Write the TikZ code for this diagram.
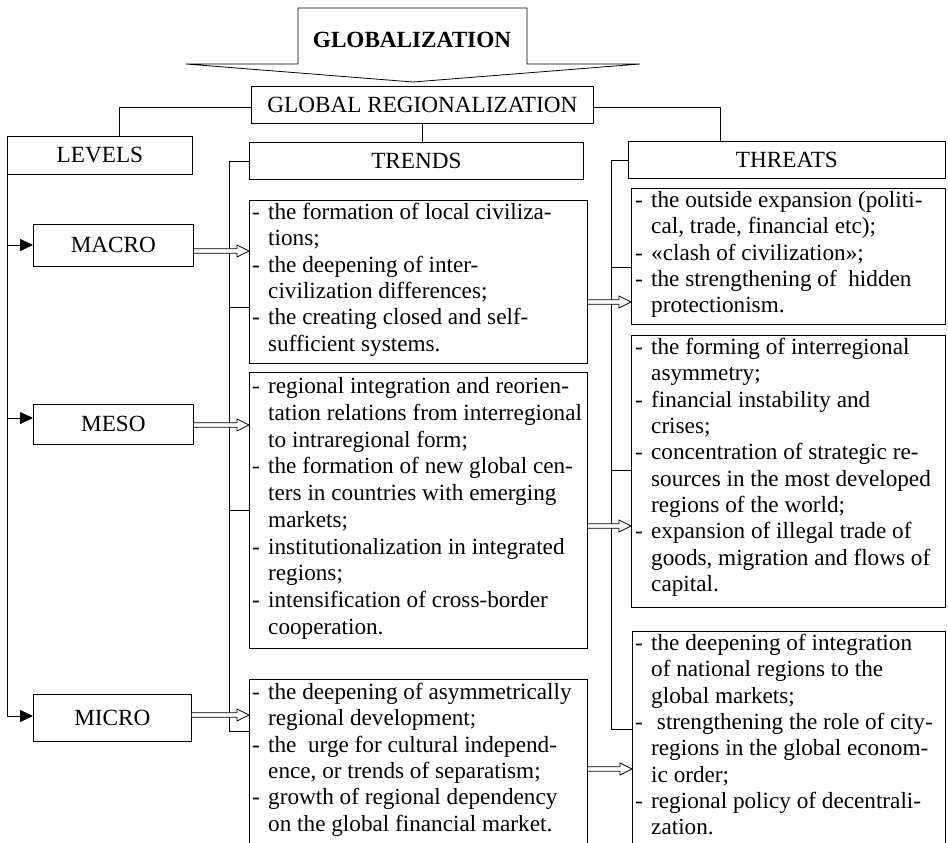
\documentclass[tikz,border=0pt]{standalone}
\usepackage{fontspec}
\setmainfont{Liberation Serif}
\usetikzlibrary{arrows.meta,calc}
\newcommand\dl[1]{\strut\makebox[16pt][l]{-}#1}
\newcommand\cl[1]{\strut\hspace*{16pt}#1}
\newcommand\dblarr[3]{%
 \path (#1.east |- #3) coordinate (da) (#2.west |- #3) coordinate (db);
 \draw[dblarrow] let \p1=(da), \p2=(db) in
   (\x1,\y1+2.3pt) -- (\x2-12pt,\y1+2.3pt) -- (\x2-12pt,\y1+6pt) -- (\x2,\y1)
   -- (\x2-12pt,\y1-6pt) -- (\x2-12pt,\y1-2.3pt) -- (\x1,\y1-2.3pt);}
\begin{document}
\begin{tikzpicture}[x=1pt,y=-1pt,
  every node/.style={font=\fontsize{23.2}{26.3}\selectfont},
  box/.style={draw, line width=0.8pt, rectangle, inner sep=0pt, anchor=north west},
  txt/.style={anchor=north west, inner sep=0pt, align=left},
  conn/.style={line width=0.8pt},
  sarrow/.style={line width=0.8pt, -{Triangle[length=13pt,width=12pt]}},
  dblarrow/.style={line width=0.7pt, fill=white},
]
\useasboundingbox (0,0) rectangle (948,843);

% GLOBALIZATION block arrow
\coordinate (g1) at (298,8);
\coordinate (g2) at (527,8);
\coordinate (g3) at (527,64);
\coordinate (g4) at (640,64);
\coordinate (gtip) at (413,82);
\coordinate (g5) at (186,64);
\coordinate (g6) at (298,64);
\draw[line width=0.8pt] (g1) -- (g2) -- (g3) -- (g4) -- (gtip) -- (g5) -- (g6) -- cycle;
\node[font=\fontsize{23.2}{26.3}\selectfont\bfseries] (glob) at (412,40) {GLOBALIZATION};

% header boxes
\node[box, minimum width=342pt, minimum height=37pt] (gr) at (251,86) {GLOBAL REGIONALIZATION};
\node[box, minimum width=185pt, minimum height=38pt] (levels) at (7,136) {LEVELS};
\node[box, minimum width=334pt, minimum height=37pt] (trends) at (249,142) {TRENDS};
\node[box, minimum width=317pt, minimum height=37pt] (threats) at (628,141) {THREATS};

% level boxes
\node[box, minimum width=160pt, minimum height=42pt] (macro) at (33,224) {MACRO};
\node[box, minimum width=160pt, minimum height=40pt] (meso) at (33,404) {MESO};
\node[box, minimum width=158pt, minimum height=47pt] (micro) at (33,694) {MICRO};

% content boxes
\node[box, minimum width=338pt, minimum height=163pt] (t1) at (249,200) {};
\node[box, minimum width=338pt, minimum height=276pt] (t2) at (249,372) {};
\node[box, minimum width=338pt, minimum height=180pt] (t3) at (249,679) {};
\node[box, minimum width=314pt, minimum height=136pt] (th1) at (631,188) {};
\node[box, minimum width=314pt, minimum height=272pt] (th2) at (631,335) {};
\node[box, minimum width=313pt, minimum height=230pt] (th3) at (632,631) {};

\node[txt] (t1t) at ([shift={(3pt,-1pt)}]t1.north west) {%
\dl{the formation of local civiliza-}\\
\cl{tions;}\\
\dl{the deepening of inter-}\\
\cl{civilization differences;}\\
\dl{the creating closed and self-}\\
\cl{sufficient systems.}};

\node[txt, font=\fontsize{23.2}{26.7}\selectfont] (t2t) at ([shift={(3pt,-3pt)}]t2.north west) {%
\dl{regional integration and reorien-}\\
\cl{tation relations from interregional}\\
\cl{to intraregional form;}\\
\dl{the formation of new global cen-}\\
\cl{ters in countries with emerging}\\
\cl{markets;}\\
\dl{institutionalization in integrated}\\
\cl{regions;}\\
\dl{intensification of cross-border}\\
\cl{cooperation.}};

\node[txt] (t3t) at ([shift={(3pt,-2pt)}]t3.north west) {%
\dl{the deepening of asymmetrically}\\
\cl{regional development;}\\
\dl{the\ \ urge for cultural independ-}\\
\cl{ence, or trends of separatism;}\\
\dl{growth of regional dependency}\\
\cl{on the global financial market.}};

\node[txt] (th1t) at ([shift={(4pt,-1pt)}]th1.north west) {%
\dl{the outside expansion (politi-}\\
\cl{cal, trade, financial etc);}\\
\dl{«clash of civilization»;}\\
\dl{the strengthening of\ \ hidden}\\
\cl{protectionism.}};

\node[txt] (th2t) at ([shift={(4pt,-1pt)}]th2.north west) {%
\dl{the forming of interregional}\\
\cl{asymmetry;}\\
\dl{financial instability and}\\
\cl{crises;}\\
\dl{concentration of strategic re-}\\
\cl{sources in the most developed}\\
\cl{regions of the world;}\\
\dl{expansion of illegal trade of}\\
\cl{goods, migration and flows of}\\
\cl{capital.}};

\node[txt] (th3t) at ([shift={(3pt,-1pt)}]th3.north west) {%
\dl{the deepening of integration}\\
\cl{of national regions to the}\\
\cl{global markets;}\\
\dl{\ strengthening the role of city-}\\
\cl{regions in the global econom-}\\
\cl{ic order;}\\
\dl{regional policy of decentrali-}\\
\cl{zation.}};

% connectors from GLOBAL REGIONALIZATION
\coordinate (ygr) at (0,107);
\coordinate (lx) at (119,0);
\coordinate (rx) at (720,0);
\draw[conn] (gr.west |- ygr) -- (lx |- ygr) -- (lx |- levels.north);
\draw[conn] (gr.south) -- (gr.south |- trends.north);
\draw[conn] (gr.east |- ygr) -- (rx |- ygr) -- (rx |- threats.north);

% levels
\coordinate (yma) at (0,245);
\coordinate (yme) at (0,418);
\coordinate (ymi) at (0,716);
\draw[sarrow] (levels.south west) -- (levels.south west |- ymi) -- (micro.west |- ymi);
\draw[sarrow] (levels.south west |- yma) -- (macro.west |- yma);
\draw[sarrow] (levels.south west |- yme) -- (meso.west |- yme);

% trends connector
\coordinate (tx) at (229,0);
\coordinate (yb1) at (0,307);
\coordinate (yb2) at (0,510);
\coordinate (yb3) at (0,731);
\draw[conn] (trends.west) -- (trends.west -| tx) -- (tx |- yb3) -- (t3.west |- yb3);
\draw[conn] (tx |- yb1) -- (t1.west |- yb1);
\draw[conn] (tx |- yb2) -- (t2.west |- yb2);

% threats connector
\coordinate (hx) at (611,0);
\coordinate (yc1) at (0,267);
\coordinate (yc2) at (0,470);
\coordinate (yc3) at (0,729);
\draw[conn] (threats.west) -- (threats.west -| hx) -- (hx |- yc3) -- (th3.west |- yc3);
\draw[conn] (hx |- yc1) -- (th1.west |- yc1);
\draw[conn] (hx |- yc2) -- (th2.west |- yc2);

% double arrows
\coordinate (yd1) at (0,251);
\coordinate (yd2) at (0,425);
\coordinate (yd3) at (0,715);
\coordinate (ye1) at (0,302);
\coordinate (ye2) at (0,526);
\coordinate (ye3) at (0,769);
\dblarr{macro}{t1}{yd1}
\dblarr{meso}{t2}{yd2}
\dblarr{micro}{t3}{yd3}
\dblarr{t1}{th1}{ye1}
\dblarr{t2}{th2}{ye2}
\dblarr{t3}{th3}{ye3}
\end{tikzpicture}
\end{document}
